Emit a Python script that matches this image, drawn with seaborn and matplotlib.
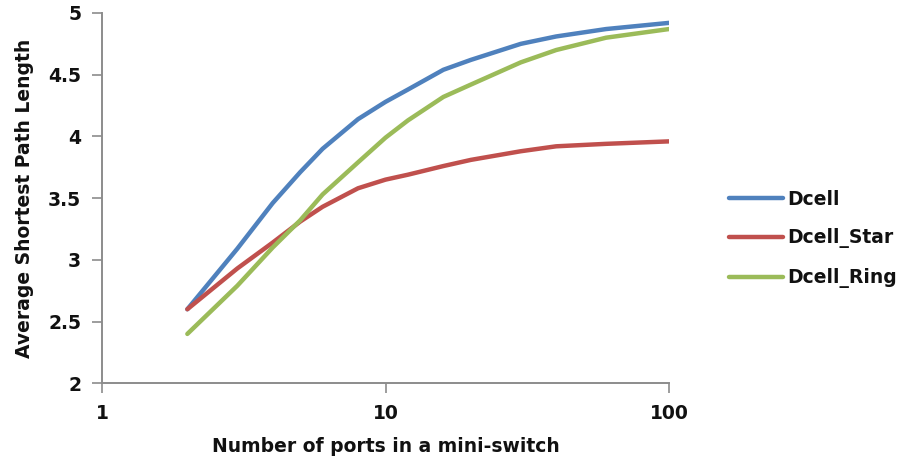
import matplotlib
matplotlib.use("Agg")
import matplotlib.pyplot as plt
import seaborn as sns
import pandas as pd

# ---- data ----
ports = [2, 3, 4, 5, 6, 8, 10, 12, 16, 20, 30, 40, 60, 100]
dcell = [2.60, 3.09, 3.46, 3.71, 3.90, 4.14, 4.28, 4.38, 4.54, 4.62, 4.75, 4.81, 4.87, 4.92]
dcell_star = [2.60, 2.93, 3.14, 3.31, 3.43, 3.58, 3.65, 3.69, 3.76, 3.81, 3.88, 3.92, 3.94, 3.96]
dcell_ring = [2.40, 2.79, 3.10, 3.32, 3.53, 3.79, 3.99, 4.13, 4.32, 4.42, 4.60, 4.70, 4.80, 4.87]
series_names = ["Dcell", "Dcell_Star", "Dcell_Ring"]
y_ticks = [2, 2.5, 3, 3.5, 4, 4.5, 5]
y_tick_labels = ["2", "2.5", "3", "3.5", "4", "4.5", "5"]
x_ticks = [1, 10, 100]
x_tick_labels = ["1", "10", "100"]
x_label = "Number of ports in a mini-switch"
y_label = "Average Shortest Path Length"

rows = []
for name, vals in zip(series_names, [dcell, dcell_star, dcell_ring]):
    for x, v in zip(ports, vals):
        rows.append({"ports": x, "value": v, "series": name})
df = pd.DataFrame(rows)

sns.set_style("white")
plt.rcParams["font.family"] = ["DejaVu Sans"]
plt.rcParams["font.weight"] = "bold"

palette = {"Dcell": "#4F81BD", "Dcell_Star": "#C0504D", "Dcell_Ring": "#9BBB59"}

fig = plt.figure(figsize=(9.10, 4.62), dpi=100)
ax = fig.add_axes([102 / 910, 1 - 383.3 / 462, (669 - 102) / 910, (383.3 - 13) / 462])

sns.lineplot(data=df, x="ports", y="value", hue="series", palette=palette,
             hue_order=series_names, linewidth=3.2, ax=ax, legend=False,
             solid_capstyle="round")

ax.set_xscale("log")
ax.set_xlim(1, 100)
ax.set_ylim(2, 5)
ax.set_xticks(x_ticks)
ax.set_xticklabels(x_tick_labels)
ax.set_yticks(y_ticks)
ax.set_yticklabels(y_tick_labels)
ax.xaxis.set_minor_locator(matplotlib.ticker.NullLocator())

for side in ["top", "right"]:
    ax.spines[side].set_visible(False)
for side in ["left", "bottom"]:
    ax.spines[side].set_color("#8C8C8C")
    ax.spines[side].set_linewidth(1.4)

ax.tick_params(axis="both", which="major", direction="out", length=7, width=1.2,
               color="#8C8C8C", labelsize=13.5, labelcolor="#111111",
               bottom=True, left=True)
ax.tick_params(axis="x", pad=8)
ax.tick_params(axis="y", pad=8)
for lab in ax.get_xticklabels() + ax.get_yticklabels():
    lab.set_fontweight("bold")

ax.set_xlabel(x_label, fontsize=13.5, fontweight="bold", labelpad=10, color="#111111")
ax.set_ylabel(y_label, fontsize=13.5, fontweight="bold", labelpad=10, color="#111111")

handles = [plt.Line2D([], [], color=palette[n], linewidth=3.2, solid_capstyle="round") for n in series_names]
leg = fig.legend(handles, series_names, loc="center left", bbox_to_anchor=(729 / 910, 1 - 239 / 462),
                 frameon=False, borderpad=0, borderaxespad=0, handlelength=2.9, handletextpad=0.2,
                 labelspacing=1.05, prop={"size": 13.5, "weight": "bold"})
for t in leg.get_texts():
    t.set_color("#111111")

fig.savefig("out.png", dpi=100)
